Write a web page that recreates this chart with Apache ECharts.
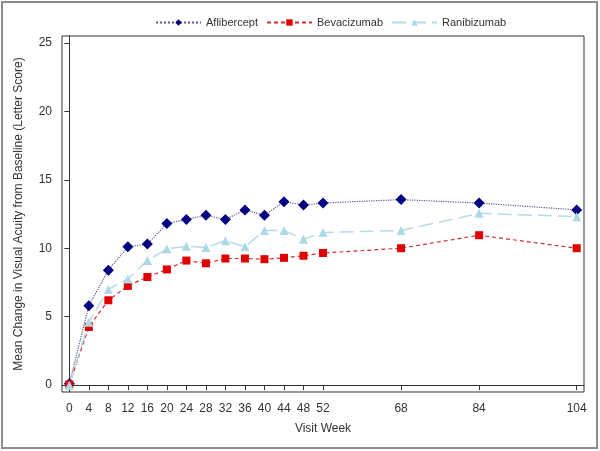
<!DOCTYPE html>
<html><head><meta charset="utf-8">
<script src="https://cdn.jsdelivr.net/npm/echarts@6/dist/echarts.min.js"></script>
<style>html,body{margin:0;padding:0;background:#fff}#c{width:600px;height:451px}</style>
</head><body><div id="c"></div>
<script>
const weeks = [0,4,8,12,16,20,24,28,32,36,40,44,48,52,68,84,104];
const xTickLabels = [0,4,8,12,16,20,24,28,32,36,40,44,48,52,68,84,104];
const yTickLabels = [0,5,10,15,20,25];
const aflibercept = [0.1,5.8,8.4,10.1,10.3,11.8,12.1,12.4,12.1,12.8,12.4,13.4,13.15,13.3,13.55,13.3,12.8];
const bevacizumab = [0.05,4.25,6.2,7.25,7.9,8.45,9.1,8.9,9.25,9.25,9.2,9.3,9.45,9.65,10.0,10.95,10.0];
const ranibizumab = [0.0,4.6,7.0,7.75,9.1,9.95,10.15,10.05,10.55,10.1,11.3,11.3,10.65,11.15,11.3,12.55,12.3];

const pair = a => weeks.map((w,i)=>[w,a[i]]);
const font = 'Liberation Sans, Arial, sans-serif';
const chart = echarts.init(document.getElementById('c'));
chart.setOption({
  animation:false,
  backgroundColor:'#fff',
  textStyle:{fontFamily:font},
  graphic:[{type:'rect',shape:{x:2,y:2,width:595,height:446},style:{fill:'none',stroke:'#8c8c8c',lineWidth:2},z:-1,silent:true}],
  legend:{
    top:12, left:150, itemWidth:45, itemHeight:8, itemGap:8,
    textStyle:{fontFamily:font,fontSize:11,color:'#333'},
    data:['Aflibercept','Bevacizumab','Ranibizumab']
  },
  grid:{left:62,right:16,top:36,bottom:59,show:true,borderColor:'#333',borderWidth:1},
  xAxis:{
    type:'value',min:-1.5,max:105.5,
    name:'Visit Week',nameLocation:'middle',nameGap:31,
    nameTextStyle:{fontFamily:font,fontSize:12,color:'#333'},
    axisLine:{lineStyle:{color:'#333'}},
    axisTick:{show:true,length:5,lineStyle:{color:'#333'},customValues:xTickLabels},
    axisLabel:{customValues:xTickLabels,fontFamily:font,fontSize:12,color:'#333',margin:11},
    splitLine:{show:false}
  },
  yAxis:{
    type:'value',min:-0.5,max:25.5,
    name:'Mean Change in Visual Acuity from Baseline (Letter Score)',nameLocation:'middle',nameGap:37,
    nameTextStyle:{fontFamily:font,fontSize:12,color:'#333'},
    axisLine:{show:true,lineStyle:{color:'#333'}},
    axisTick:{show:true,length:5,lineStyle:{color:'#333'},customValues:yTickLabels},
    axisLabel:{customValues:yTickLabels,fontFamily:font,fontSize:12,color:'#333',margin:10},
    splitLine:{show:false}
  },
  series:[
    {name:'Aflibercept',type:'line',data:pair(aflibercept),symbol:'diamond',symbolSize:11,
     itemStyle:{color:'#000080'},lineStyle:{color:'#5a5a90',width:1.2,type:'dotted'}},
    {name:'Bevacizumab',type:'line',data:pair(bevacizumab),symbol:'rect',symbolSize:8,
     itemStyle:{color:'#e00000'},lineStyle:{color:'#d03030',width:1.2,type:[4,3]}},
    {name:'Ranibizumab',type:'line',data:pair(ranibizumab),symbol:'triangle',symbolSize:9,
     itemStyle:{color:'#add8e6'},lineStyle:{color:'#b5dbe6',width:1.5,type:[14,6]}}
  ]
});
</script></body></html>
